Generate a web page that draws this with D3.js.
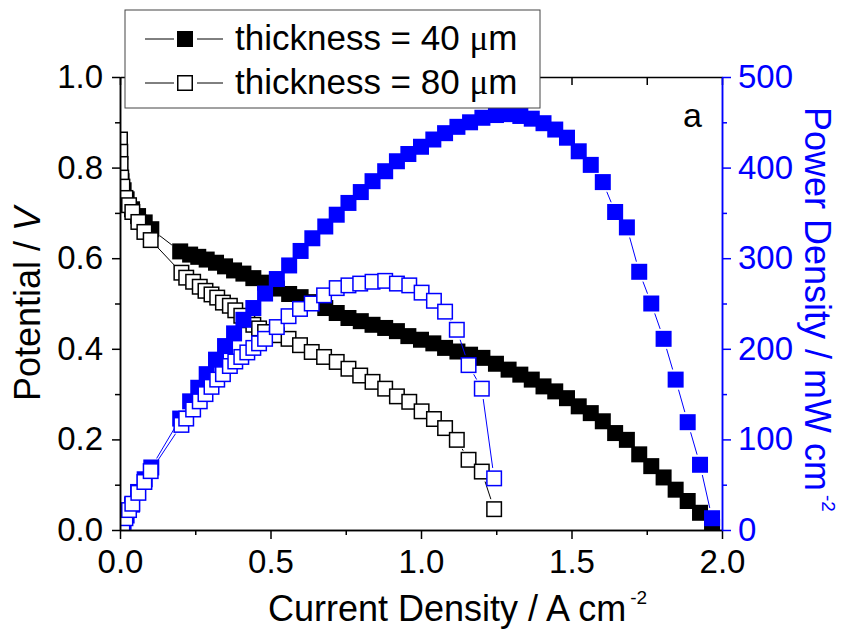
<!DOCTYPE html>
<html>
<head>
<meta charset="utf-8">
<script src="https://cdn.jsdelivr.net/npm/d3@7"></script>
<style>
  body { margin: 0; background: #fff; }
  svg { font-family: "Liberation Sans", Arial, sans-serif; }
</style>
</head>
<body>
<div id="chart"></div>
<script>
// current density (A cm-2), potential (V), power density (mW cm-2)
const current40 = [0.0, 0.005, 0.012, 0.022, 0.04, 0.06, 0.082, 0.104,
  0.2, 0.233, 0.26, 0.288, 0.319, 0.349, 0.379, 0.41, 0.443, 0.482, 0.521, 0.562, 0.6, 0.639,
  0.682, 0.72, 0.759, 0.8, 0.839, 0.881, 0.92, 0.958, 1.0, 1.041, 1.08, 1.121, 1.163, 1.204,
  1.249, 1.291, 1.33, 1.368, 1.407, 1.446, 1.485, 1.524, 1.564, 1.604, 1.645, 1.684, 1.725,
  1.765, 1.806, 1.846, 1.886, 1.927, 1.967];
const potential40 = [0.785, 0.77, 0.75, 0.73, 0.708, 0.693, 0.679, 0.664,
  0.615, 0.608, 0.603, 0.597, 0.590, 0.582, 0.573, 0.566, 0.556, 0.546, 0.533, 0.521, 0.514, 0.503,
  0.490, 0.479, 0.468, 0.461, 0.453, 0.446, 0.439, 0.428, 0.420, 0.412, 0.402, 0.394, 0.387, 0.380,
  0.367, 0.354, 0.343, 0.332, 0.317, 0.306, 0.291, 0.273, 0.258, 0.240, 0.214, 0.199, 0.167,
  0.141, 0.116, 0.089, 0.064, 0.038, 0.007];
const power40 = [0, 4, 9, 16, 28, 42, 56, 69,
  123, 142, 157, 172, 188, 203, 217, 232, 245, 261, 277, 292, 308, 322,
  335, 348, 361, 373, 385, 396, 407, 415, 423, 431, 438, 445, 450, 455,
  458, 459, 457, 454, 449, 442, 433, 418, 403, 384, 351, 334, 285,
  250, 211, 166, 119, 72, 13];

const current80 = [0.0, 0.001, 0.002, 0.004, 0.008, 0.018, 0.03, 0.041, 0.061, 0.081, 0.102,
  0.204, 0.22, 0.243, 0.265, 0.284, 0.304, 0.323, 0.342, 0.365, 0.383, 0.403, 0.423, 0.443,
  0.462, 0.482, 0.521, 0.56, 0.598, 0.637, 0.678, 0.72, 0.759, 0.798, 0.839, 0.881, 0.92,
  0.961, 1.002, 1.043, 1.08, 1.119, 1.158, 1.202, 1.243];
const potential80 = [0.862, 0.835, 0.808, 0.778, 0.758, 0.733, 0.717, 0.702, 0.680, 0.658, 0.640,
  0.568, 0.557, 0.548, 0.537, 0.528, 0.520, 0.513, 0.502, 0.495, 0.485, 0.473, 0.463, 0.453,
  0.445, 0.437, 0.430, 0.422, 0.408, 0.393, 0.382, 0.371, 0.356, 0.341, 0.327, 0.312, 0.295,
  0.283, 0.262, 0.245, 0.225, 0.199, 0.155, 0.129, 0.046];
const power80 = [0, 1, 2, 3, 6, 13, 22, 29, 41, 53, 65,
  116, 123, 133, 142, 150, 158, 166, 172, 181, 186, 191, 196, 201,
  206, 211, 224, 236, 244, 250, 259, 267, 270, 272, 274, 275, 272,
  270, 262, 253, 241, 221, 182, 156, 57];

const xTicks = [0.0, 0.5, 1.0, 1.5, 2.0];
const xMinor = [0.25, 0.75, 1.25, 1.75];
const leftTicks = [0.0, 0.2, 0.4, 0.6, 0.8, 1.0];
const leftMinor = [0.1, 0.3, 0.5, 0.7, 0.9];
const rightTicks = [0, 100, 200, 300, 400, 500];
const rightMinor = [50, 150, 250, 350, 450];
const legendLabels = ["thickness = 40 ", "thickness = 80 "];

const width = 844, height = 629;
const blue = "#0000ff";

const svg = d3.select("#chart").append("svg")
  .attr("width", width)
  .attr("height", height);

const x = d3.scaleLinear().domain([0, 2]).range([120, 722]);
const yLeft = d3.scaleLinear().domain([0, 1]).range([530, 77]);
const yRight = d3.scaleLinear().domain([0, 500]).range([530, 77]);

svg.append("clipPath").attr("id", "plot-clip")
  .append("rect")
  .attr("x", 120).attr("y", 77)
  .attr("width", 602).attr("height", 453);

const plot = svg.append("g").attr("clip-path", "url(#plot-clip)");

// connecting lines stop short of the symbols, like the original plot
function gappedSegments(pts, gap) {
  const segs = [];
  for (let i = 1; i < pts.length; i++) {
    const [x1, y1] = pts[i - 1], [x2, y2] = pts[i];
    const len = Math.hypot(x2 - x1, y2 - y1);
    if (len <= 2 * gap) continue;
    const ux = (x2 - x1) / len, uy = (y2 - y1) / len;
    segs.push([x1 + ux * gap, y1 + uy * gap, x2 - ux * gap, y2 - uy * gap]);
  }
  return segs;
}

function drawSeries(xs, ys, yScale, color, filled) {
  const pts = xs.map((d, i) => [d, ys[i]]);
  const screen = pts.map(d => [x(d[0]), yScale(d[1])]);
  plot.append("g").selectAll("line")
    .data(gappedSegments(screen, 10.5))
    .enter().append("line")
    .attr("x1", d => d[0]).attr("y1", d => d[1])
    .attr("x2", d => d[2]).attr("y2", d => d[3])
    .attr("stroke", color)
    .attr("stroke-width", 1);
  const g = plot.append("g");
  if (filled) {
    g.selectAll("rect").data(pts).enter().append("rect")
      .attr("x", d => x(d[0]) - 8)
      .attr("y", d => yScale(d[1]) - 8)
      .attr("width", 16).attr("height", 16)
      .attr("fill", color);
  } else {
    g.selectAll("rect").data(pts).enter().append("rect")
      .attr("x", d => x(d[0]) - 7.25)
      .attr("y", d => yScale(d[1]) - 7.25)
      .attr("width", 14.5).attr("height", 14.5)
      .attr("fill", "#fff")
      .attr("stroke", color)
      .attr("stroke-width", 1.5);
  }
}

drawSeries(current40, potential40, yLeft, "#000", true);
drawSeries(current80, potential80, yLeft, "#000", false);
drawSeries(current40, power40, yRight, blue, true);
drawSeries(current80, power80, yRight, blue, false);

// axes
function styleAxis(g, color) {
  g.select(".domain").attr("stroke", color).attr("stroke-width", 1.5);
  g.selectAll(".tick line").attr("stroke", color).attr("stroke-width", 1.5);
  g.selectAll(".tick text")
    .attr("fill", color)
    .style("font-size", "33px")
    .style("font-family", "'Liberation Sans', Arial, sans-serif");
}

const fmt1 = d3.format(".1f");

const gBottom = svg.append("g").attr("transform", "translate(0,530)")
  .call(d3.axisBottom(x).tickValues(xTicks).tickFormat(fmt1).tickSizeInner(9).tickSizeOuter(0));
styleAxis(gBottom, "#000");
gBottom.selectAll(".tick text").attr("y", 43).attr("dy", null);
const gBottomMinor = svg.append("g").attr("transform", "translate(0,530)")
  .call(d3.axisBottom(x).tickValues(xMinor).tickFormat("").tickSizeInner(5).tickSizeOuter(0));
styleAxis(gBottomMinor, "#000");

const gTop = svg.append("g").attr("transform", "translate(0,77)")
  .call(d3.axisTop(x).tickValues(xTicks.concat(xMinor)).tickFormat("").tickSizeInner(-8).tickSizeOuter(0));
styleAxis(gTop, "#000");

const gLeft = svg.append("g").attr("transform", "translate(120,0)")
  .call(d3.axisLeft(yLeft).tickValues(leftTicks).tickFormat(fmt1).tickSizeInner(8).tickSizeOuter(0).tickPadding(9));
styleAxis(gLeft, "#000");
const gLeftMinor = svg.append("g").attr("transform", "translate(120,0)")
  .call(d3.axisLeft(yLeft).tickValues(leftMinor).tickFormat("").tickSizeInner(5).tickSizeOuter(0));
styleAxis(gLeftMinor, "#000");

const gRight = svg.append("g").attr("transform", "translate(722,0)")
  .call(d3.axisRight(yRight).tickValues(rightTicks).tickFormat(d3.format("d")).tickSizeInner(9).tickSizeOuter(0).tickPadding(7));
styleAxis(gRight, blue);
const gRightMinor = svg.append("g").attr("transform", "translate(722,0)")
  .call(d3.axisRight(yRight).tickValues(rightMinor).tickFormat("").tickSizeInner(5).tickSizeOuter(0));
styleAxis(gRightMinor, blue);

// axis titles
const xTitle = svg.append("text")
  .attr("x", 268).attr("y", 621)
  .style("font-size", "36px");
xTitle.append("tspan").text("Current Density / A cm");
xTitle.append("tspan").text("-2").attr("dx", 4).attr("dy", -17).style("font-size", "19px");

const yTitle = svg.append("text")
  .attr("transform", "translate(40,304) rotate(-90)")
  .attr("text-anchor", "middle")
  .style("font-size", "36px");
yTitle.append("tspan").text("Potential / ");
yTitle.append("tspan").text("V").style("font-style", "italic");

const y2Title = svg.append("text")
  .attr("transform", "translate(805,107) rotate(90)")
  .attr("fill", blue)
  .style("font-size", "36px");
y2Title.append("tspan").text("Power Density / mW cm");
y2Title.append("tspan").text("-2").attr("dx", 4).attr("dy", -17).style("font-size", "19px");

svg.append("text")
  .attr("x", 683).attr("y", 127)
  .style("font-size", "34px")
  .text("a");

// legend
const legend = svg.append("g");
legend.append("rect")
  .attr("x", 125).attr("y", 10)
  .attr("width", 415).attr("height", 98)
  .attr("fill", "#fff")
  .attr("stroke", "#444")
  .attr("stroke-width", 1);

legendLabels.forEach((label, i) => {
  const cy = 39 + i * 44;
  [[145, 174], [197, 223]].forEach(([a, b]) => {
    legend.append("line")
      .attr("x1", a).attr("x2", b)
      .attr("y1", cy).attr("y2", cy)
      .attr("stroke", "#000").attr("stroke-width", 1);
  });
  if (i === 0) {
    legend.append("rect")
      .attr("x", 177).attr("y", cy - 8)
      .attr("width", 16).attr("height", 16)
      .attr("fill", "#000");
  } else {
    legend.append("rect")
      .attr("x", 177.75).attr("y", cy - 7.25)
      .attr("width", 14.5).attr("height", 14.5)
      .attr("fill", "#fff")
      .attr("stroke", "#000").attr("stroke-width", 1.5);
  }
  const t = legend.append("text")
    .attr("x", 235).attr("y", cy + 11)
    .style("font-size", "35px");
  t.append("tspan").text(label);
  t.append("tspan").text("μ").style("font-family", "'Liberation Serif', serif");
  t.append("tspan").text("m");
});
</script>
</body>
</html>
